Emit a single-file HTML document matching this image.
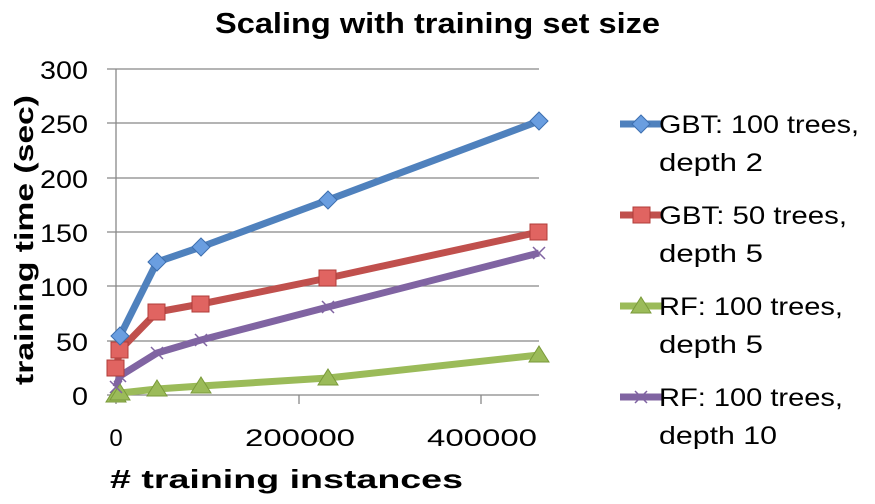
<!DOCTYPE html><html><head><style>body{margin:0;background:#fff}</style></head><body>
<svg width="875" height="499" xmlns="http://www.w3.org/2000/svg" font-family="Liberation Sans, sans-serif">
<text x="215" y="33" font-size="29" font-weight="bold" textLength="445" lengthAdjust="spacingAndGlyphs">Scaling with training set size</text>
<g stroke="#888" stroke-width="1.3">
<line x1="107" y1="69" x2="539" y2="69"/><line x1="107" y1="123" x2="539" y2="123"/><line x1="107" y1="178" x2="539" y2="178"/><line x1="107" y1="232" x2="539" y2="232"/><line x1="107" y1="286" x2="539" y2="286"/><line x1="107" y1="341" x2="539" y2="341"/><line x1="107" y1="395" x2="539" y2="395"/>
<line x1="116" y1="69" x2="116" y2="404"/><line x1="299" y1="395" x2="299" y2="404"/><line x1="481" y1="395" x2="481" y2="404"/>
</g>
<g font-size="25">
<text x="40" y="79" textLength="48" lengthAdjust="spacingAndGlyphs">300</text><text x="40" y="133" textLength="48" lengthAdjust="spacingAndGlyphs">250</text><text x="40" y="188" textLength="48" lengthAdjust="spacingAndGlyphs">200</text><text x="40" y="242" textLength="48" lengthAdjust="spacingAndGlyphs">150</text><text x="40" y="296" textLength="48" lengthAdjust="spacingAndGlyphs">100</text><text x="56" y="351" textLength="32" lengthAdjust="spacingAndGlyphs">50</text><text x="72" y="405" textLength="16" lengthAdjust="spacingAndGlyphs">0</text></g>
<g font-size="24" text-anchor="middle"><text x="116" y="446">0</text><text x="300" y="446" textLength="110" lengthAdjust="spacingAndGlyphs">200000</text><text x="482" y="446" textLength="110" lengthAdjust="spacingAndGlyphs">400000</text></g>
<text x="110" y="488" font-size="26" font-weight="bold" textLength="353" lengthAdjust="spacingAndGlyphs"># training instances</text>
<text transform="translate(33,385) rotate(-90)" font-size="26" font-weight="bold" textLength="290" lengthAdjust="spacingAndGlyphs">training time (sec)</text>
<g fill="none" stroke-width="7" stroke-linejoin="round">
<polyline stroke="#9bbb59" points="116,396 120,393 157,389 201,386 328,378 539,355"/>
<polyline stroke="#8064a2" points="116,387 120,376 157,353 201,340 328,307 539,253"/>
<polyline stroke="#c0504d" points="116,368 120,350 157,312 201,304 328,278 539,232"/>
<polyline stroke="#4f81bd" points="120,336 157,262 201,247 328,200 539,121"/>
</g>
<g fill="#9bbb59" stroke="#7a9a3a"><polygon points="116,386 126,402 106,402"/><polygon points="120,384 130,400 110,400"/><polygon points="157,380 167,396 147,396"/><polygon points="201,377 211,393 191,393"/><polygon points="328,369 338,385 318,385"/><polygon points="539,346 549,362 529,362"/></g>
<g stroke="#8064a2" stroke-width="1.5"><path d="M110,381l12,12M122,381l-12,12M114,370l12,12M126,370l-12,12M151,347l12,12M163,347l-12,12M195,334l12,12M207,334l-12,12M322,301l12,12M334,301l-12,12M533,247l12,12M545,247l-12,12"/></g>
<g fill="#e06461" stroke="#b03c39"><rect x="107" y="360" width="17" height="16"/><rect x="111" y="342" width="17" height="16"/><rect x="148" y="304" width="17" height="16"/><rect x="192" y="296" width="17" height="16"/><rect x="319" y="270" width="17" height="16"/><rect x="530" y="224" width="17" height="16"/></g>
<g fill="#6a9ee0" stroke="#3d6fb0"><polygon points="120,327 129,336 120,345 111,336"/><polygon points="157,253 166,262 157,271 148,262"/><polygon points="201,238 210,247 201,256 192,247"/><polygon points="328,191 337,200 328,209 319,200"/><polygon points="539,112 548,121 539,130 530,121"/></g>
<g stroke-width="7"><line x1="620" y1="124" x2="662" y2="124" stroke="#4f81bd"/><line x1="620" y1="215" x2="662" y2="215" stroke="#c0504d"/><line x1="620" y1="306" x2="662" y2="306" stroke="#9bbb59"/><line x1="620" y1="397" x2="662" y2="397" stroke="#8064a2"/></g>
<polygon points="641,115 650,124 641,133 632,124" fill="#6a9ee0" stroke="#3d6fb0"/>
<rect x="633" y="207" width="17" height="16" fill="#e06461" stroke="#b03c39"/>
<polygon points="641,297 651,313 631,313" fill="#9bbb59" stroke="#7a9a3a"/>
<path d="M635,391l12,12M647,391l-12,12" stroke="#8064a2" stroke-width="1.5"/>
<g font-size="25"><text x="659" y="133" textLength="200" lengthAdjust="spacingAndGlyphs">GBT: 100 trees,</text><text x="659" y="171" textLength="104" lengthAdjust="spacingAndGlyphs">depth 2</text><text x="659" y="224" textLength="188" lengthAdjust="spacingAndGlyphs">GBT: 50 trees,</text><text x="659" y="262" textLength="104" lengthAdjust="spacingAndGlyphs">depth 5</text><text x="659" y="315" textLength="184" lengthAdjust="spacingAndGlyphs">RF: 100 trees,</text><text x="659" y="353" textLength="104" lengthAdjust="spacingAndGlyphs">depth 5</text><text x="659" y="406" textLength="184" lengthAdjust="spacingAndGlyphs">RF: 100 trees,</text><text x="659" y="444" textLength="118" lengthAdjust="spacingAndGlyphs">depth 10</text></g>
</svg></body></html>
